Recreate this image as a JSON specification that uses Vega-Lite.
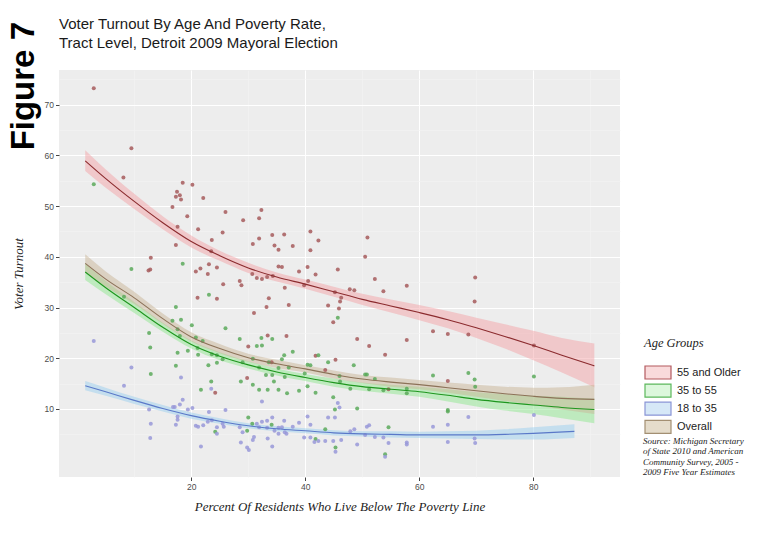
{
  "$schema": "https://vega.github.io/schema/vega-lite/v6.json",
  "background": "white",
  "padding": {"left": 8, "top": 17, "right": 5, "bottom": 5},
  "title": {"text": "Figure 7", "orient": "left", "anchor": "end", "font": "Liberation Sans", "fontSize": 33, "fontWeight": "bold", "color": "#000000", "offset": -29, "dx": -5},
  "bounds": "flush",
  "spacing": 23,
  "datasets": {
    "pts": [
      {"g":"55 and Older","x":2.9,"y":73.2},{"g":"55 and Older","x":9.5,"y":61.4},{"g":"55 and Older","x":8.1,"y":55.6},{"g":"55 and Older","x":12.9,"y":39.8},{"g":"55 and Older","x":12.8,"y":37.5},{"g":"55 and Older","x":12.5,"y":37.3},{"g":"55 and Older","x":18.5,"y":54.6},{"g":"55 and Older","x":17.5,"y":52.8},{"g":"55 and Older","x":17.3,"y":51.8},{"g":"55 and Older","x":18.0,"y":52.1},{"g":"55 and Older","x":18.2,"y":51.3},{"g":"55 and Older","x":16.7,"y":49.8},{"g":"55 and Older","x":20.2,"y":54.2},{"g":"55 and Older","x":19.3,"y":48.0},{"g":"55 and Older","x":17.6,"y":45.9},{"g":"55 and Older","x":17.3,"y":42.3},{"g":"55 and Older","x":21.2,"y":45.4},{"g":"55 and Older","x":20.8,"y":37.1},{"g":"55 and Older","x":21.6,"y":37.7},{"g":"55 and Older","x":21.1,"y":31.9},{"g":"55 and Older","x":22.1,"y":51.6},{"g":"55 and Older","x":26.0,"y":48.8},{"g":"55 and Older","x":29.1,"y":47.2},{"g":"55 and Older","x":25.5,"y":44.8},{"g":"55 and Older","x":23.6,"y":43.3},{"g":"55 and Older","x":23.5,"y":41.1},{"g":"55 and Older","x":23.1,"y":38.5},{"g":"55 and Older","x":24.5,"y":37.9},{"g":"55 and Older","x":22.9,"y":36.6},{"g":"55 and Older","x":28.5,"y":35.2},{"g":"55 and Older","x":28.8,"y":34.4},{"g":"55 and Older","x":25.6,"y":34.6},{"g":"55 and Older","x":24.5,"y":31.7},{"g":"55 and Older","x":30.0,"y":22.3},{"g":"55 and Older","x":29.8,"y":16.1},{"g":"55 and Older","x":24.2,"y":13.2},{"g":"55 and Older","x":32.3,"y":49.2},{"g":"55 and Older","x":31.9,"y":47.6},{"g":"55 and Older","x":31.9,"y":43.6},{"g":"55 and Older","x":30.8,"y":42.5},{"g":"55 and Older","x":34.2,"y":44.3},{"g":"55 and Older","x":36.3,"y":44.4},{"g":"55 and Older","x":40.9,"y":45.0},{"g":"55 and Older","x":42.3,"y":43.2},{"g":"55 and Older","x":34.6,"y":42.2},{"g":"55 and Older","x":35.3,"y":41.4},{"g":"55 and Older","x":37.8,"y":42.1},{"g":"55 and Older","x":40.9,"y":41.3},{"g":"55 and Older","x":35.3,"y":38.1},{"g":"55 and Older","x":35.9,"y":38.0},{"g":"55 and Older","x":38.9,"y":37.1},{"g":"55 and Older","x":40.4,"y":38.0},{"g":"55 and Older","x":45.7,"y":37.5},{"g":"55 and Older","x":30.7,"y":36.6},{"g":"55 and Older","x":31.5,"y":35.8},{"g":"55 and Older","x":32.4,"y":35.6},{"g":"55 and Older","x":33.3,"y":36.0},{"g":"55 and Older","x":34.3,"y":36.2},{"g":"55 and Older","x":40.5,"y":35.2},{"g":"55 and Older","x":41.8,"y":36.5},{"g":"55 and Older","x":36.4,"y":33.9},{"g":"55 and Older","x":39.8,"y":34.4},{"g":"55 and Older","x":45.2,"y":33.0},{"g":"55 and Older","x":46.3,"y":31.9},{"g":"55 and Older","x":46.1,"y":31.2},{"g":"55 and Older","x":47.8,"y":33.6},{"g":"55 and Older","x":48.6,"y":33.4},{"g":"55 and Older","x":33.6,"y":31.8},{"g":"55 and Older","x":33.2,"y":30.1},{"g":"55 and Older","x":37.1,"y":30.5},{"g":"55 and Older","x":44.0,"y":30.4},{"g":"55 and Older","x":45.9,"y":29.8},{"g":"55 and Older","x":31.0,"y":28.9},{"g":"55 and Older","x":44.9,"y":27.1},{"g":"55 and Older","x":33.4,"y":24.5},{"g":"55 and Older","x":36.7,"y":24.4},{"g":"55 and Older","x":34.1,"y":19.2},{"g":"55 and Older","x":41.8,"y":20.5},{"g":"55 and Older","x":45.3,"y":19.7},{"g":"55 and Older","x":43.5,"y":17.7},{"g":"55 and Older","x":50.9,"y":43.8},{"g":"55 and Older","x":50.5,"y":40.0},{"g":"55 and Older","x":52.2,"y":35.6},{"g":"55 and Older","x":53.7,"y":33.2},{"g":"55 and Older","x":57.8,"y":34.3},{"g":"55 and Older","x":49.1,"y":23.8},{"g":"55 and Older","x":51.2,"y":22.4},{"g":"55 and Older","x":54.0,"y":20.7},{"g":"55 and Older","x":57.8,"y":23.6},{"g":"55 and Older","x":62.4,"y":25.3},{"g":"55 and Older","x":65.0,"y":24.8},{"g":"55 and Older","x":65.0,"y":15.5},{"g":"55 and Older","x":54.6,"y":13.9},{"g":"55 and Older","x":69.8,"y":35.9},{"g":"55 and Older","x":69.7,"y":31.2},{"g":"55 and Older","x":68.6,"y":24.7},{"g":"55 and Older","x":80.1,"y":22.5},
      {"g":"35 to 55","x":2.9,"y":54.3},{"g":"35 to 55","x":9.5,"y":37.6},{"g":"35 to 55","x":8.2,"y":32.1},{"g":"35 to 55","x":12.6,"y":25.0},{"g":"35 to 55","x":12.8,"y":22.1},{"g":"35 to 55","x":12.9,"y":16.9},{"g":"35 to 55","x":18.5,"y":38.6},{"g":"35 to 55","x":23.1,"y":32.5},{"g":"35 to 55","x":17.3,"y":30.1},{"g":"35 to 55","x":16.7,"y":27.4},{"g":"35 to 55","x":18.2,"y":27.6},{"g":"35 to 55","x":20.1,"y":26.5},{"g":"35 to 55","x":17.6,"y":25.7},{"g":"35 to 55","x":18.0,"y":24.4},{"g":"35 to 55","x":20.8,"y":24.1},{"g":"35 to 55","x":22.0,"y":23.4},{"g":"35 to 55","x":26.0,"y":25.9},{"g":"35 to 55","x":28.5,"y":23.8},{"g":"35 to 55","x":19.4,"y":21.5},{"g":"35 to 55","x":17.6,"y":21.1},{"g":"35 to 55","x":21.1,"y":22.0},{"g":"35 to 55","x":21.2,"y":20.7},{"g":"35 to 55","x":23.6,"y":20.8},{"g":"35 to 55","x":24.5,"y":20.6},{"g":"35 to 55","x":25.5,"y":19.8},{"g":"35 to 55","x":24.5,"y":19.1},{"g":"35 to 55","x":23.0,"y":18.6},{"g":"35 to 55","x":17.3,"y":18.5},{"g":"35 to 55","x":29.0,"y":19.2},{"g":"35 to 55","x":23.5,"y":15.4},{"g":"35 to 55","x":28.7,"y":15.4},{"g":"35 to 55","x":21.7,"y":13.8},{"g":"35 to 55","x":30.0,"y":8.3},{"g":"35 to 55","x":24.2,"y":5.5},{"g":"35 to 55","x":29.8,"y":5.7},{"g":"35 to 55","x":45.7,"y":28.0},{"g":"35 to 55","x":32.3,"y":24.0},{"g":"35 to 55","x":34.2,"y":23.8},{"g":"35 to 55","x":31.5,"y":22.4},{"g":"35 to 55","x":32.4,"y":22.5},{"g":"35 to 55","x":36.3,"y":20.6},{"g":"35 to 55","x":37.8,"y":21.3},{"g":"35 to 55","x":35.9,"y":19.8},{"g":"35 to 55","x":42.3,"y":20.6},{"g":"35 to 55","x":30.8,"y":19.9},{"g":"35 to 55","x":33.6,"y":19.2},{"g":"35 to 55","x":31.9,"y":18.2},{"g":"35 to 55","x":35.3,"y":18.1},{"g":"35 to 55","x":37.1,"y":18.2},{"g":"35 to 55","x":40.4,"y":18.7},{"g":"35 to 55","x":40.9,"y":18.6},{"g":"35 to 55","x":44.0,"y":19.2},{"g":"35 to 55","x":48.5,"y":18.6},{"g":"35 to 55","x":33.1,"y":16.7},{"g":"35 to 55","x":34.2,"y":16.7},{"g":"35 to 55","x":36.4,"y":16.3},{"g":"35 to 55","x":39.9,"y":17.0},{"g":"35 to 55","x":46.0,"y":16.5},{"g":"35 to 55","x":34.5,"y":15.4},{"g":"35 to 55","x":30.8,"y":14.8},{"g":"35 to 55","x":31.9,"y":13.8},{"g":"35 to 55","x":33.4,"y":13.8},{"g":"35 to 55","x":35.3,"y":13.8},{"g":"35 to 55","x":36.8,"y":13.1},{"g":"35 to 55","x":38.9,"y":13.6},{"g":"35 to 55","x":40.4,"y":14.5},{"g":"35 to 55","x":41.8,"y":13.2},{"g":"35 to 55","x":46.1,"y":15.4},{"g":"35 to 55","x":47.9,"y":14.0},{"g":"35 to 55","x":44.9,"y":12.3},{"g":"35 to 55","x":45.2,"y":9.9},{"g":"35 to 55","x":30.7,"y":7.1},{"g":"35 to 55","x":34.1,"y":6.9},{"g":"35 to 55","x":43.5,"y":6.0},{"g":"35 to 55","x":41.8,"y":4.1},{"g":"35 to 55","x":45.3,"y":2.4},{"g":"35 to 55","x":50.5,"y":16.8},{"g":"35 to 55","x":50.8,"y":16.8},{"g":"35 to 55","x":52.2,"y":15.9},{"g":"35 to 55","x":51.2,"y":13.9},{"g":"35 to 55","x":53.7,"y":13.7},{"g":"35 to 55","x":57.8,"y":14.0},{"g":"35 to 55","x":57.8,"y":13.1},{"g":"35 to 55","x":62.4,"y":16.6},{"g":"35 to 55","x":49.1,"y":10.1},{"g":"35 to 55","x":54.6,"y":6.4},{"g":"35 to 55","x":65.0,"y":9.8},{"g":"35 to 55","x":65.0,"y":9.5},{"g":"35 to 55","x":54.0,"y":1.1},{"g":"35 to 55","x":68.6,"y":17.1},{"g":"35 to 55","x":69.7,"y":15.8},{"g":"35 to 55","x":69.8,"y":14.4},{"g":"35 to 55","x":80.1,"y":16.4},
      {"g":"18 to 35","x":2.9,"y":23.4},{"g":"18 to 35","x":9.5,"y":18.2},{"g":"18 to 35","x":8.2,"y":14.6},{"g":"18 to 35","x":12.6,"y":9.9},{"g":"18 to 35","x":12.9,"y":7.1},{"g":"18 to 35","x":12.8,"y":4.3},{"g":"18 to 35","x":18.2,"y":16.2},{"g":"18 to 35","x":23.5,"y":14.0},{"g":"18 to 35","x":18.5,"y":11.8},{"g":"18 to 35","x":18.0,"y":10.9},{"g":"18 to 35","x":17.1,"y":10.4},{"g":"18 to 35","x":16.8,"y":10.4},{"g":"18 to 35","x":20.2,"y":10.2},{"g":"18 to 35","x":19.4,"y":9.9},{"g":"18 to 35","x":23.1,"y":9.4},{"g":"18 to 35","x":26.0,"y":9.8},{"g":"18 to 35","x":17.6,"y":8.5},{"g":"18 to 35","x":17.6,"y":7.9},{"g":"18 to 35","x":17.3,"y":6.9},{"g":"18 to 35","x":20.8,"y":6.7},{"g":"18 to 35","x":21.2,"y":6.5},{"g":"18 to 35","x":22.1,"y":6.8},{"g":"18 to 35","x":23.6,"y":7.8},{"g":"18 to 35","x":22.9,"y":7.5},{"g":"18 to 35","x":24.5,"y":6.4},{"g":"18 to 35","x":25.5,"y":7.1},{"g":"18 to 35","x":25.7,"y":6.5},{"g":"18 to 35","x":28.5,"y":6.4},{"g":"18 to 35","x":29.0,"y":5.4},{"g":"18 to 35","x":24.5,"y":5.1},{"g":"18 to 35","x":28.7,"y":3.4},{"g":"18 to 35","x":21.7,"y":2.6},{"g":"18 to 35","x":29.8,"y":2.4},{"g":"18 to 35","x":30.1,"y":1.9},{"g":"18 to 35","x":32.4,"y":11.5},{"g":"18 to 35","x":45.7,"y":11.2},{"g":"18 to 35","x":46.0,"y":10.3},{"g":"18 to 35","x":34.2,"y":8.3},{"g":"18 to 35","x":40.4,"y":8.5},{"g":"18 to 35","x":44.0,"y":8.3},{"g":"18 to 35","x":45.2,"y":8.3},{"g":"18 to 35","x":38.9,"y":7.3},{"g":"18 to 35","x":40.9,"y":6.9},{"g":"18 to 35","x":36.3,"y":7.7},{"g":"18 to 35","x":31.5,"y":7.1},{"g":"18 to 35","x":31.9,"y":6.4},{"g":"18 to 35","x":32.4,"y":7.5},{"g":"18 to 35","x":33.3,"y":7.7},{"g":"18 to 35","x":33.3,"y":6.3},{"g":"18 to 35","x":35.3,"y":6.3},{"g":"18 to 35","x":35.9,"y":6.4},{"g":"18 to 35","x":34.6,"y":5.7},{"g":"18 to 35","x":35.3,"y":5.1},{"g":"18 to 35","x":36.4,"y":5.4},{"g":"18 to 35","x":36.7,"y":5.1},{"g":"18 to 35","x":37.8,"y":6.5},{"g":"18 to 35","x":39.8,"y":4.4},{"g":"18 to 35","x":40.9,"y":4.4},{"g":"18 to 35","x":41.6,"y":3.5},{"g":"18 to 35","x":42.3,"y":3.7},{"g":"18 to 35","x":43.5,"y":3.7},{"g":"18 to 35","x":44.9,"y":3.7},{"g":"18 to 35","x":46.3,"y":3.9},{"g":"18 to 35","x":47.9,"y":5.6},{"g":"18 to 35","x":48.6,"y":6.0},{"g":"18 to 35","x":30.8,"y":3.9},{"g":"18 to 35","x":31.0,"y":4.5},{"g":"18 to 35","x":33.4,"y":4.2},{"g":"18 to 35","x":34.2,"y":2.6},{"g":"18 to 35","x":45.3,"y":1.6},{"g":"18 to 35","x":50.8,"y":6.5},{"g":"18 to 35","x":51.2,"y":6.8},{"g":"18 to 35","x":50.5,"y":4.9},{"g":"18 to 35","x":52.2,"y":4.5},{"g":"18 to 35","x":53.7,"y":4.4},{"g":"18 to 35","x":54.6,"y":3.3},{"g":"18 to 35","x":57.8,"y":3.4},{"g":"18 to 35","x":57.8,"y":3.0},{"g":"18 to 35","x":49.1,"y":3.0},{"g":"18 to 35","x":54.0,"y":0.6},{"g":"18 to 35","x":62.4,"y":6.5},{"g":"18 to 35","x":65.0,"y":6.9},{"g":"18 to 35","x":65.0,"y":3.5},{"g":"18 to 35","x":68.6,"y":8.4},{"g":"18 to 35","x":80.1,"y":8.8},{"g":"18 to 35","x":69.7,"y":4.2},{"g":"18 to 35","x":69.8,"y":3.3}
    ],
    "fit": [
      {"g":"55 and Older","x":1.4,"y":58.9,"lo":56.9,"hi":61.0},{"g":"55 and Older","x":5,"y":55.4,"lo":53.6,"hi":57.2},{"g":"55 and Older","x":10,"y":50.9,"lo":49.4,"hi":52.4},{"g":"55 and Older","x":15,"y":46.7,"lo":45.4,"hi":48.0},{"g":"55 and Older","x":20,"y":43.0,"lo":41.8,"hi":44.2},{"g":"55 and Older","x":25,"y":40.2,"lo":39.2,"hi":41.2},{"g":"55 and Older","x":30,"y":37.8,"lo":36.8,"hi":38.8},{"g":"55 and Older","x":35,"y":36.0,"lo":35.1,"hi":36.9},{"g":"55 and Older","x":40,"y":34.6,"lo":33.7,"hi":35.5},{"g":"55 and Older","x":45,"y":33.1,"lo":32.1,"hi":34.1},{"g":"55 and Older","x":50,"y":31.6,"lo":30.5,"hi":32.7},{"g":"55 and Older","x":55,"y":30.3,"lo":29.0,"hi":31.6},{"g":"55 and Older","x":60,"y":29.0,"lo":27.5,"hi":30.5},{"g":"55 and Older","x":65,"y":27.6,"lo":25.9,"hi":29.3},{"g":"55 and Older","x":70,"y":26.0,"lo":24.0,"hi":28.0},{"g":"55 and Older","x":75,"y":24.3,"lo":21.9,"hi":26.7},{"g":"55 and Older","x":80,"y":22.5,"lo":19.6,"hi":25.4},{"g":"55 and Older","x":85,"y":20.6,"lo":17.2,"hi":24.0},{"g":"55 and Older","x":90.7,"y":18.5,"lo":14.3,"hi":22.9},
      {"g":"35 to 55","x":1.4,"y":37.0,"lo":35.4,"hi":38.6},{"g":"35 to 55","x":5,"y":33.9,"lo":32.6,"hi":35.2},{"g":"35 to 55","x":10,"y":30.0,"lo":28.9,"hi":31.1},{"g":"35 to 55","x":15,"y":26.1,"lo":25.2,"hi":27.0},{"g":"35 to 55","x":20,"y":22.7,"lo":21.9,"hi":23.5},{"g":"35 to 55","x":25,"y":20.4,"lo":19.6,"hi":21.2},{"g":"35 to 55","x":30,"y":18.7,"lo":18.0,"hi":19.4},{"g":"35 to 55","x":35,"y":17.3,"lo":16.6,"hi":18.0},{"g":"35 to 55","x":40,"y":16.2,"lo":15.5,"hi":16.9},{"g":"35 to 55","x":45,"y":15.2,"lo":14.4,"hi":16.0},{"g":"35 to 55","x":50,"y":14.4,"lo":13.6,"hi":15.2},{"g":"35 to 55","x":55,"y":13.9,"lo":13.0,"hi":14.8},{"g":"35 to 55","x":60,"y":13.4,"lo":12.4,"hi":14.4},{"g":"35 to 55","x":65,"y":12.7,"lo":11.5,"hi":13.9},{"g":"35 to 55","x":70,"y":11.9,"lo":10.5,"hi":13.3},{"g":"35 to 55","x":75,"y":11.3,"lo":9.7,"hi":12.9},{"g":"35 to 55","x":80,"y":10.8,"lo":9.0,"hi":12.6},{"g":"35 to 55","x":85,"y":10.3,"lo":8.2,"hi":12.4},{"g":"35 to 55","x":90.7,"y":9.9,"lo":7.2,"hi":12.0},
      {"g":"18 to 35","x":1.4,"y":14.6,"lo":13.7,"hi":15.5},{"g":"18 to 35","x":5,"y":13.4,"lo":12.6,"hi":14.2},{"g":"18 to 35","x":10,"y":11.7,"lo":11.0,"hi":12.4},{"g":"18 to 35","x":15,"y":10.1,"lo":9.5,"hi":10.8},{"g":"18 to 35","x":20,"y":8.7,"lo":8.1,"hi":9.3},{"g":"18 to 35","x":25,"y":7.6,"lo":7.1,"hi":8.2},{"g":"18 to 35","x":30,"y":6.7,"lo":6.2,"hi":7.2},{"g":"18 to 35","x":35,"y":6.1,"lo":5.6,"hi":6.6},{"g":"18 to 35","x":40,"y":5.7,"lo":5.2,"hi":6.2},{"g":"18 to 35","x":45,"y":5.3,"lo":4.8,"hi":5.8},{"g":"18 to 35","x":50,"y":5.1,"lo":4.6,"hi":5.6},{"g":"18 to 35","x":55,"y":5.0,"lo":4.4,"hi":5.6},{"g":"18 to 35","x":60,"y":4.9,"lo":4.3,"hi":5.5},{"g":"18 to 35","x":65,"y":4.9,"lo":4.2,"hi":5.6},{"g":"18 to 35","x":70,"y":4.9,"lo":4.1,"hi":5.7},{"g":"18 to 35","x":75,"y":5.0,"lo":4.0,"hi":6.0},{"g":"18 to 35","x":80,"y":5.2,"lo":4.0,"hi":6.4},{"g":"18 to 35","x":87.2,"y":5.6,"lo":4.3,"hi":7.0},
      {"g":"Overall","x":1.4,"y":38.7,"lo":36.9,"hi":40.5},{"g":"Overall","x":5,"y":35.6,"lo":34.1,"hi":37.1},{"g":"Overall","x":10,"y":31.9,"lo":30.7,"hi":33.1},{"g":"Overall","x":15,"y":27.8,"lo":26.8,"hi":28.8},{"g":"Overall","x":20,"y":24.2,"lo":23.3,"hi":25.1},{"g":"Overall","x":25,"y":21.9,"lo":21.0,"hi":22.8},{"g":"Overall","x":30,"y":20.1,"lo":19.3,"hi":20.9},{"g":"Overall","x":35,"y":18.9,"lo":18.1,"hi":19.7},{"g":"Overall","x":40,"y":17.9,"lo":17.2,"hi":18.6},{"g":"Overall","x":45,"y":16.8,"lo":16.0,"hi":17.6},{"g":"Overall","x":50,"y":15.9,"lo":15.1,"hi":16.7},{"g":"Overall","x":55,"y":15.3,"lo":14.4,"hi":16.2},{"g":"Overall","x":60,"y":14.8,"lo":13.9,"hi":15.7},{"g":"Overall","x":65,"y":14.2,"lo":13.2,"hi":15.2},{"g":"Overall","x":70,"y":13.6,"lo":12.4,"hi":14.8},{"g":"Overall","x":75,"y":13.0,"lo":11.6,"hi":14.4},{"g":"Overall","x":80,"y":12.5,"lo":10.8,"hi":14.2},{"g":"Overall","x":85,"y":12.1,"lo":9.9,"hi":14.3},{"g":"Overall","x":90.7,"y":11.9,"lo":9.0,"hi":14.8}
    ]
  },
  "hconcat": [
    {
      "width": 561,
      "height": 407,
      "view": {"fill": "#ededed", "stroke": null},
      "title": {"text": ["Voter Turnout By Age And Poverty Rate,", "Tract Level, Detroit 2009 Mayoral Election"], "anchor": "start", "frame": "group", "font": "Liberation Sans", "fontSize": 15, "fontWeight": "normal", "color": "#1a1a1a", "lineHeight": 19, "offset": 19},
      "layer": [
        {
          "data": {"name": "fit"},
          "mark": {"type": "area", "opacity": 0.5, "interpolate": "monotone"},
          "encoding": {
            "x": {"field": "x", "type": "quantitative", "scale": {"domain": [-3.2, 95.2], "nice": false, "zero": false},
              "axis": {"values": [20, 40, 60, 80], "grid": true, "gridColor": "#ffffff", "gridWidth": 1.1, "domain": false, "ticks": true, "tickColor": "#444444", "tickSize": 3.5, "tickWidth": 1, "labelFont": "Liberation Sans", "labelFontSize": 8.5, "labelColor": "#4d4d4d", "labelPadding": 2, "title": "Percent Of Residents Who Live Below The Poverty Line", "titleFont": "Liberation Serif", "titleFontStyle": "italic", "titleFontWeight": "normal", "titleFontSize": 13, "titleColor": "#222222", "titlePadding": 9}},
            "y": {"field": "lo", "type": "quantitative", "scale": {"domain": [-3.4, 76.8], "nice": false, "zero": false},
              "axis": {"values": [10, 20, 30, 40, 50, 60, 70], "grid": true, "gridColor": "#ffffff", "gridWidth": 1.1, "domain": false, "ticks": true, "tickColor": "#444444", "tickSize": 3.5, "tickWidth": 1, "labelFont": "Liberation Sans", "labelFontSize": 8.5, "labelColor": "#4d4d4d", "labelPadding": 2, "title": "Voter Turnout", "titleFont": "Liberation Serif", "titleFontStyle": "italic", "titleFontWeight": "normal", "titleFontSize": 13, "titleColor": "#222222", "titlePadding": 19}},
            "y2": {"field": "hi"},
            "color": {"field": "g", "type": "nominal", "scale": {"domain": ["55 and Older", "35 to 55", "18 to 35", "Overall"], "range": ["#f4a3a8", "#90e890", "#9ccff0", "#c9b597"]}, "legend": null}
          }
        },
        {
          "data": {"name": "pts"},
          "mark": {"type": "circle", "size": 16, "opacity": 0.85},
          "encoding": {
            "x": {"field": "x", "type": "quantitative", "axis": null},
            "y": {"field": "y", "type": "quantitative", "axis": null},
            "color": {"field": "g", "type": "nominal", "scale": {"domain": ["55 and Older", "35 to 55", "18 to 35"], "range": ["#a65a5c", "#5aa95a", "#9898d8"]}, "legend": null}
          }
        },
        {
          "data": {"name": "fit"},
          "mark": {"type": "line", "strokeWidth": 1.1, "interpolate": "monotone"},
          "encoding": {
            "x": {"field": "x", "type": "quantitative",
              "axis": {"orient": "top", "values": [10, 30, 50, 70, 90], "grid": true, "gridColor": "#f4f4f4", "gridWidth": 0.6, "domain": false, "ticks": false, "labels": false, "title": null}},
            "y": {"field": "y", "type": "quantitative",
              "axis": {"orient": "right", "values": [5, 15, 25, 35, 45, 55, 65, 75], "grid": true, "gridColor": "#f4f4f4", "gridWidth": 0.6, "domain": false, "ticks": false, "labels": false, "title": null}},
            "color": {"field": "g", "type": "nominal", "scale": {"domain": ["55 and Older", "35 to 55", "18 to 35", "Overall"], "range": ["#8b2b2e", "#1e961e", "#5a78c8", "#8c7258"]}, "legend": null}
          }
        },
        {
          "data": {"name": "fit"},
          "transform": [{"filter": "false"}],
          "mark": {"type": "square", "opacity": 1},
          "encoding": {
            "fill": {"field": "g", "type": "nominal", "scale": {"domain": ["55 and Older", "35 to 55", "18 to 35", "Overall"], "range": ["#f9dadb", "#dcf7dc", "#d6e8f7", "#e5dccb"]},
              "legend": {"title": "Age Groups", "orient": "none", "legendX": 585, "legendY": 267, "padding": 0, "titleFont": "Liberation Serif", "titleFontStyle": "italic", "titleFontWeight": "normal", "titleFontSize": 12.5, "titleColor": "#222222", "titlePadding": 15.5, "labelFont": "Liberation Sans", "labelFontSize": 11, "labelColor": "#222222", "labelOffset": 18, "symbolType": "M-1,-1H3V1H-1Z", "symbolSize": 169, "symbolStrokeWidth": 1.2, "rowPadding": -0.9}},
            "stroke": {"field": "g", "type": "nominal", "scale": {"domain": ["55 and Older", "35 to 55", "18 to 35", "Overall"], "range": ["#b35a5f", "#5cb85c", "#8a95d6", "#a38f72"]},
              "legend": {"title": "Age Groups", "orient": "none", "legendX": 585, "legendY": 267, "padding": 0, "titleFont": "Liberation Serif", "titleFontStyle": "italic", "titleFontWeight": "normal", "titleFontSize": 12.5, "titleColor": "#222222", "titlePadding": 15.5, "labelFont": "Liberation Sans", "labelFontSize": 11, "labelColor": "#222222", "labelOffset": 18, "symbolType": "M-1,-1H3V1H-1Z", "symbolSize": 169, "symbolStrokeWidth": 1.2, "rowPadding": -0.9}}
          }
        }
      ],
      "resolve": {"scale": {"color": "independent"}, "axis": {"x": "independent", "y": "independent"}}
    },
    {
      "width": 100,
      "height": 367,
      "view": {"stroke": null},
      "data": {"values": [{"a": 1}]},
      "transform": [{"filter": "false"}],
      "mark": "point",
      "encoding": {},
      "title": {"text": ["Source: Michigan Secretary", "of State 2010 and American", "Community Survey, 2005 -", "2009 Five Year Estimates"], "orient": "bottom", "anchor": "start", "frame": "group", "font": "Liberation Serif", "fontStyle": "italic", "fontSize": 9, "fontWeight": "normal", "lineHeight": 10.3, "color": "#222222", "offset": 0}
    }
  ]
}
